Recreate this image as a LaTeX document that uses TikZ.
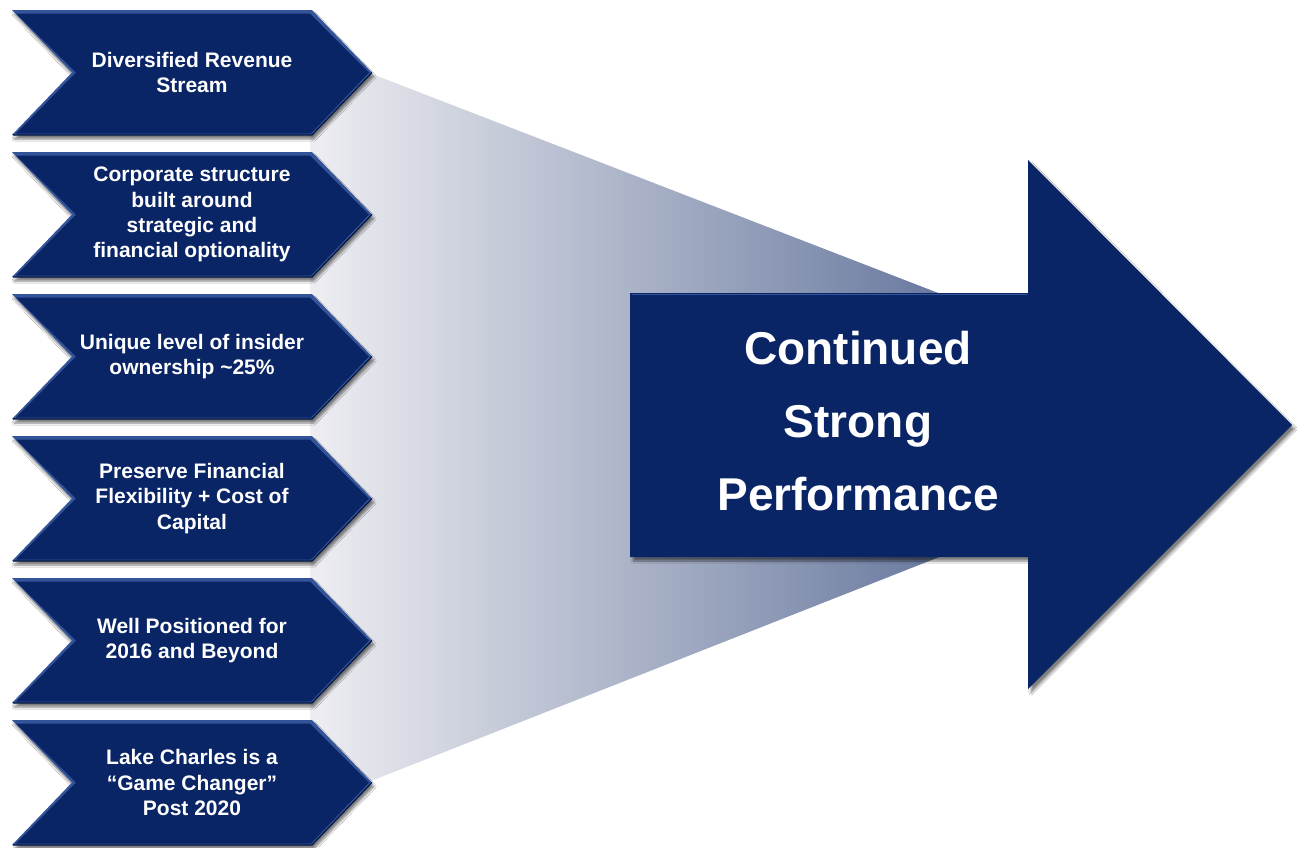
\documentclass[tikz,border=0pt]{standalone}
\usepackage{fontspec}
\setmainfont{Liberation Sans}
\usetikzlibrary{shadows.blur}

\definecolor{navy}{HTML}{0A2565}
\definecolor{navylight}{HTML}{34549A}
\definecolor{navydark}{HTML}{03143F}
\definecolor{funnelleft}{HTML}{EEEEF2}
\definecolor{funnelright}{HTML}{5F7199}

\tikzset{
  chevouter/.style={fill=navylight,
    blur shadow={shadow xshift=2pt, shadow yshift=-4pt, shadow blur steps=6, shadow opacity=50}},
  chevinner/.style={fill=navy},
  chevedge/.style={draw=navydark, line width=1.2pt, line join=round},
  chevtext/.style={text=white, align=center,
    font=\fontsize{21}{25.3}\selectfont\bfseries},
  bigarrow/.style={fill=navy,
    blur shadow={shadow xshift=3pt, shadow yshift=-4pt, shadow blur steps=8, shadow opacity=50}},
  bigtext/.style={text=white, align=center,
    font=\fontsize{46}{73}\selectfont\bfseries},
}

% one bevelled chevron: #1 node name, #2 top edge, #3 label
\newcommand{\drawchev}[3]{%
  \path[chevouter] (12,#2) -- (312,#2) -- (372,#2+62.5) -- (312,#2+125)
        -- (12,#2+125) -- (72,#2+62.5) -- cycle;
  \path[chevinner] (16,#2+3.5) -- (310,#2+3.5) -- (369,#2+62.5) -- (311,#2+123.5)
        -- (16,#2+123.5) -- (76,#2+62.5) -- cycle;
  \draw[chevedge] (372,#2+62.5) -- (312,#2+125) -- (13,#2+125);
  \node[chevtext] (#1) at (192,#2+62.5) {#3};
}

\begin{document}
\begin{tikzpicture}[x=1pt,y=-1pt]
  \useasboundingbox[fill=white] (0,0) rectangle (1304,847);

  % funnel behind everything
  \shade[left color=funnelleft, right color=funnelright]
    (310,50) -- (990,313) -- (990,537) -- (310,805) -- cycle;

  % main arrow
  \path[bigarrow] (630,293) -- (1028,293) -- (1028,160) -- (1292,425)
        -- (1028,689) -- (1028,557) -- (630,557) -- cycle;
  \draw[navylight, line width=1.5pt] (632,294.5) -- (1027,294.5);
  \node[bigtext] (perf) at (858,421) {Continued\\Strong\\Performance};

  % chevrons
  \drawchev{c1}{10}{Diversified Revenue\\Stream}
  \drawchev{c2}{152}{Corporate structure\\built around\\strategic and\\financial optionality}
  \drawchev{c3}{294}{Unique level of insider\\ownership \textasciitilde25\%}
  \drawchev{c4}{436}{Preserve Financial\\Flexibility + Cost of\\Capital}
  \drawchev{c5}{578}{Well Positioned for\\2016 and Beyond}
  \drawchev{c6}{720}{Lake Charles is a\\“Game Changer”\\Post 2020}
\end{tikzpicture}
\end{document}
